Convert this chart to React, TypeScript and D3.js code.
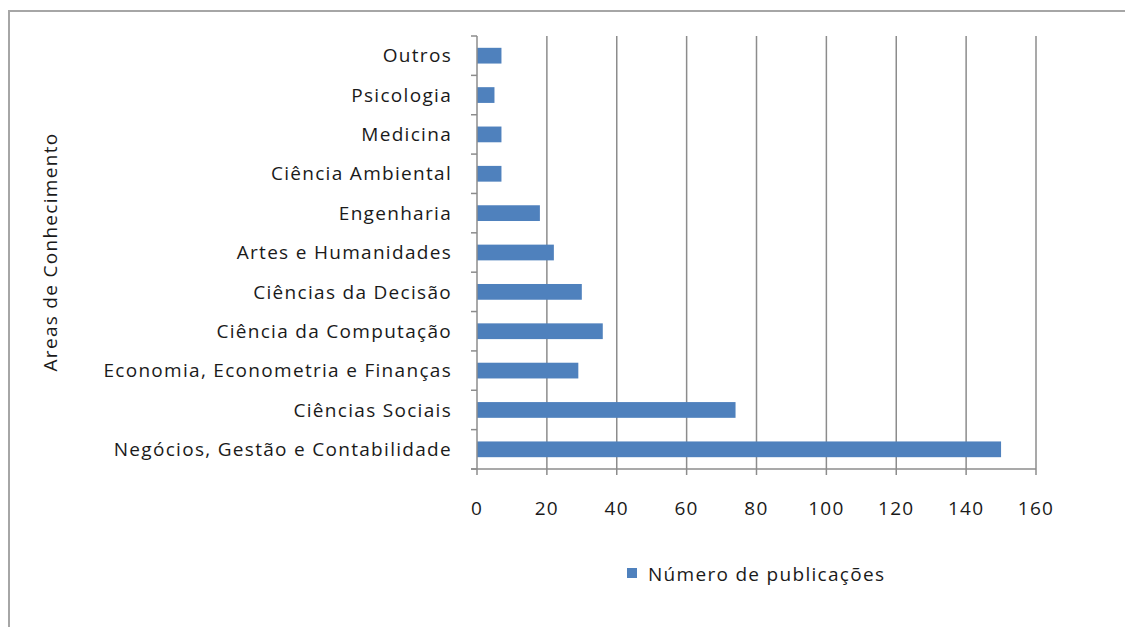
import React, { useEffect, useRef } from "react";
import * as d3 from "d3";

const categories = [
  "Outros",
  "Psicologia",
  "Medicina",
  "Ciência Ambiental",
  "Engenharia",
  "Artes e Humanidades",
  "Ciências da Decisão",
  "Ciência da Computação",
  "Economia, Econometria e Finanças",
  "Ciências Sociais",
  "Negócios, Gestão e Contabilidade",
];
const values = [7, 5, 7, 7, 18, 22, 30, 36, 29, 74, 150];
const xTicks = [0, 20, 40, 60, 80, 100, 120, 140, 160];
const seriesName = "Número de publicações";
const axisTitle = "Areas de Conhecimento";

const W = 1125;
const H = 627;
const FONT = "'Open Sans', sans-serif";
const FS = 19;
const LS = 1.3;

export default function App() {
  const ref = useRef<SVGSVGElement | null>(null);
  useEffect(() => {
    const svg = d3.select(ref.current);
    svg.selectAll("*").remove();

    const left = 477, right = 1036, top = 36, bottom = 469;
    const x = d3.scaleLinear().domain([0, 160]).range([left, right]);
    const y = d3.scaleBand().domain(categories).range([top, bottom]).paddingInner(0.6).paddingOuter(0.3);
    const band = (bottom - top) / categories.length;

    const txt = (sel: any) =>
      sel.attr("font-family", FONT).attr("font-size", FS).attr("letter-spacing", LS).attr("fill", "#1a1a1a");

    // frame
    svg.append("path")
      .attr("d", `M9,${H + 5} L9,11 L${W + 5},11`)
      .attr("fill", "none").attr("stroke", "#a6a6a6").attr("stroke-width", 2);

    // grid
    svg.append("g").selectAll("line").data(xTicks.slice(1)).join("line")
      .attr("x1", d => x(d)).attr("x2", d => x(d))
      .attr("y1", top).attr("y2", bottom)
      .attr("stroke", "#8c8c8c").attr("stroke-width", 1.5);

    // bars
    svg.append("g").selectAll("rect").data(categories).join("rect")
      .attr("x", x(0))
      .attr("y", (d) => y(d)!)
      .attr("width", (d, i) => x(values[i]) - x(0))
      .attr("height", y.bandwidth())
      .attr("fill", "#4f81bd");

    // axes lines
    svg.append("line").attr("x1", left).attr("x2", left).attr("y1", top).attr("y2", bottom)
      .attr("stroke", "#8c8c8c").attr("stroke-width", 1.5);
    svg.append("line").attr("x1", left - 6).attr("x2", right).attr("y1", bottom).attr("y2", bottom)
      .attr("stroke", "#8c8c8c").attr("stroke-width", 1.5);

    // y ticks at band boundaries
    d3.range(categories.length + 1).forEach(i => {
      svg.append("line").attr("x1", left - 6).attr("x2", left)
        .attr("y1", top + i * band).attr("y2", top + i * band)
        .attr("stroke", "#8c8c8c").attr("stroke-width", 1.5);
    });
    // x ticks
    svg.append("g").selectAll("line").data(xTicks).join("line")
      .attr("x1", d => x(d)).attr("x2", d => x(d))
      .attr("y1", bottom).attr("y2", bottom + 6)
      .attr("stroke", "#8c8c8c").attr("stroke-width", 1.5);

    // category labels
    svg.append("g").selectAll("text").data(categories).join("text")
      .attr("x", 452)
      .attr("y", d => y(d)! + y.bandwidth() / 2)
      .attr("dy", "0.35em")
      .attr("text-anchor", "end")
      .call(txt)
      .text(d => d);

    // x tick labels
    svg.append("g").selectAll("text").data(xTicks).join("text")
      .attr("x", d => x(d)).attr("y", 508).attr("dy", "0.35em")
      .attr("text-anchor", "middle")
      .call(txt)
      .text(d => String(d));

    // axis title
    svg.append("text")
      .attr("transform", `translate(57,252) rotate(-90)`)
      .attr("text-anchor", "middle")
      .call(txt)
      .text(axisTitle);

    // legend
    svg.append("rect").attr("x", 627).attr("y", 568).attr("width", 10).attr("height", 10).attr("fill", "#4f81bd");
    svg.append("text").attr("x", 648).attr("y", 574).attr("dy", "0.35em")
      .call(txt)
      .text(seriesName);
  }, []);

  return (
    <svg ref={ref} width={W} height={H}
      style={{ position: "absolute", left: 0, top: 0, background: "#fff" }} />
  );
}
